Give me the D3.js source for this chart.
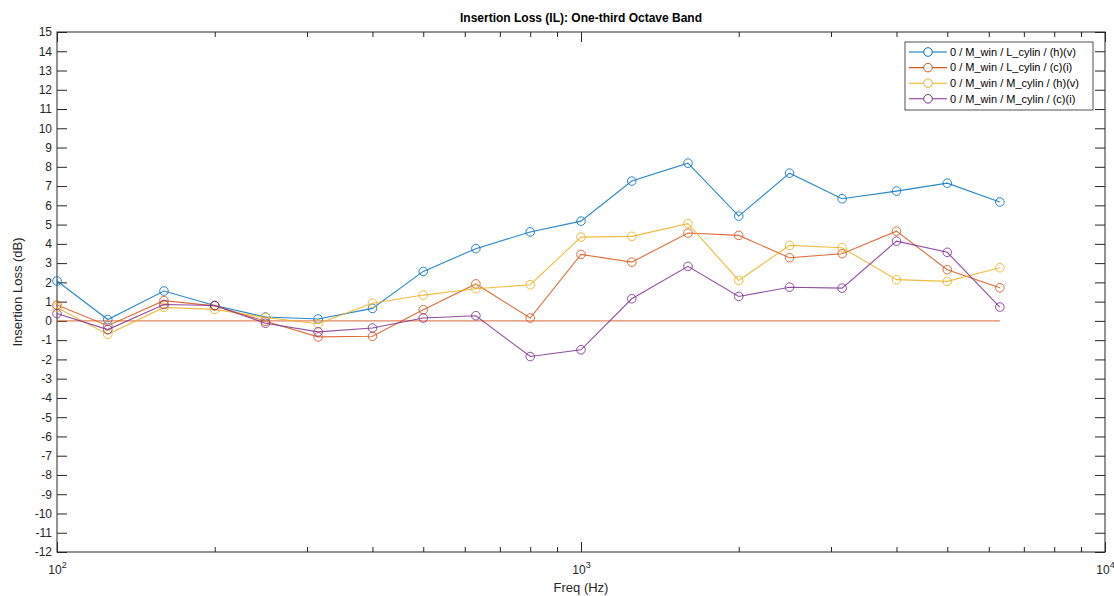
<!DOCTYPE html>
<html>
<head>
<meta charset="utf-8">
<script src="https://cdn.jsdelivr.net/npm/d3@7"></script>
<style>
  body { margin: 0; background: #fff; }
  text { font-family: Arial, "Liberation Sans", sans-serif; fill: #262626; }
  .title { font-weight: bold; font-size: 12px; fill: #000; }
  .label { font-size: 13px; }
  .axis text { font-size: 12px; }
  .legend text { font-size: 11px; fill: #000; }
</style>
</head>
<body>
<svg width="1114" height="596"></svg>
<script>
// one-third octave band centres (Hz)
var freqs = [100, 125, 160, 200, 250, 315, 400, 500, 630, 800, 1000, 1250, 1600, 2000, 2500, 3150, 4000, 5000, 6300];

var seriesNames = [
  '0 / M_win / L_cylin / (h)(v)',
  '0 / M_win / L_cylin / (c)(i)',
  '0 / M_win / M_cylin / (h)(v)',
  '0 / M_win / M_cylin / (c)(i)'
];
var seriesColors = ['#0072BD', '#D95319', '#EDB120', '#7E2F8E'];

var lHv = [2.07, 0.07, 1.55, 0.8, 0.2, 0.1, 0.65, 2.57, 3.75, 4.62, 5.18, 7.26, 8.19, 5.44, 7.67, 6.34, 6.74, 7.15, 6.17];
var lCi = [0.82, -0.25, 1.05, 0.78, -0.02, -0.83, -0.8, 0.58, 1.92, 0.15, 3.45, 3.05, 4.56, 4.44, 3.28, 3.49, 4.66, 2.66, 1.72];
var mHv = [0.7, -0.7, 0.7, 0.6, 0.18, -0.15, 0.92, 1.34, 1.67, 1.88, 4.35, 4.39, 5.05, 2.1, 3.92, 3.8, 2.14, 2.05, 2.76];
var mCi = [0.38, -0.45, 0.85, 0.8, -0.12, -0.57, -0.37, 0.15, 0.27, -1.85, -1.5, 1.15, 2.83, 1.27, 1.75, 1.7, 4.14, 3.56, 0.72];
var allSeries = [lHv, lCi, mHv, mCi];

var zeroLine = freqs.map(() => 0);

var yTicks = d3.range(-12, 16);
var xMajor = [100, 1000, 10000];
var xMinor = [200, 300, 400, 500, 600, 700, 800, 900, 2000, 3000, 4000, 5000, 6000, 7000, 8000, 9000];

var svg = d3.select('svg');
var plotL = 57, plotT = 32, plotR = 1105, plotB = 552;

var xScale = d3.scaleLog().domain([100, 10000]).range([plotL, plotR]);
var yScale = d3.scaleLinear().domain([-12, 15]).range([plotB, plotT]);

// axes box
svg.append('rect')
  .attr('x', plotL).attr('y', plotT)
  .attr('width', plotR - plotL).attr('height', plotB - plotT)
  .attr('fill', 'none').attr('stroke', '#262626').attr('stroke-width', 1);

function cleanAxis(g) {
  g.select('.domain').remove();
  g.selectAll('line').attr('stroke', '#262626');
  g.selectAll('text').attr('font-family', null).attr('font-size', null).attr('fill', '#262626');
}

svg.append('g').attr('class', 'axis')
  .attr('transform', `translate(${plotL},0)`)
  .call(d3.axisLeft(yScale).tickValues(yTicks).tickSize(-10).tickPadding(5).tickFormat((d) => String(d)))
  .call(cleanAxis);

svg.append('g').attr('class', 'axis')
  .attr('transform', `translate(${plotR},0)`)
  .call(d3.axisRight(yScale).tickValues(yTicks).tickSize(-10).tickFormat(''))
  .call(cleanAxis);

svg.append('g').attr('class', 'axis')
  .attr('transform', `translate(0,${plotB})`)
  .call(d3.axisBottom(xScale).tickValues(xMinor).tickSize(-5).tickFormat(''))
  .call(cleanAxis);

svg.append('g').attr('class', 'axis')
  .attr('transform', `translate(0,${plotT})`)
  .call(d3.axisTop(xScale).tickValues(xMinor).tickSize(-5).tickFormat(''))
  .call(cleanAxis);

var xMaj = svg.append('g').attr('class', 'axis')
  .attr('transform', `translate(0,${plotB})`)
  .call(d3.axisBottom(xScale).tickValues(xMajor).tickSize(-10).tickFormat(''))
  .call(cleanAxis);

svg.append('g').attr('class', 'axis')
  .attr('transform', `translate(0,${plotT})`)
  .call(d3.axisTop(xScale).tickValues(xMajor).tickSize(-10).tickFormat(''))
  .call(cleanAxis);

// 10^n labels
var expLabel = xMaj.selectAll('.tick').append('text')
  .attr('y', 22)
  .attr('text-anchor', 'middle')
  .attr('fill', '#262626');
expLabel.append('tspan').text('10');
expLabel.append('tspan')
  .attr('dy', -6)
  .attr('font-size', '9px')
  .text((d) => Math.round(Math.log10(d)));

// zero reference
var line = d3.line()
  .x((d, i) => xScale(freqs[i]))
  .y((d) => yScale(d));

svg.append('path')
  .datum(zeroLine)
  .attr('d', line)
  .attr('fill', 'none')
  .attr('stroke', '#D95319')
  .attr('stroke-opacity', 0.7)
  .attr('stroke-width', 1.4);

allSeries.forEach(function (vals, k) {
  var g = svg.append('g');
  g.append('path')
    .datum(vals)
    .attr('d', line)
    .attr('fill', 'none')
    .attr('stroke', seriesColors[k])
    .attr('stroke-opacity', 0.85)
    .attr('stroke-width', 1.1);
  g.selectAll('circle')
    .data(vals)
    .enter()
    .append('circle')
    .attr('cx', (d, i) => xScale(freqs[i]))
    .attr('cy', (d) => yScale(d))
    .attr('r', 4.3)
    .attr('fill', 'none')
    .attr('stroke', seriesColors[k])
    .attr('stroke-opacity', 0.85)
    .attr('stroke-width', 1);
});

// legend
var legend = svg.append('g').attr('class', 'legend');
legend.append('rect')
  .attr('x', 905).attr('y', 42)
  .attr('width', 188).attr('height', 68)
  .attr('fill', '#fff')
  .attr('stroke', '#262626')
  .attr('stroke-width', 0.8);

var rows = legend.selectAll('.row')
  .data(seriesNames)
  .enter()
  .append('g')
  .attr('class', 'row')
  .attr('transform', (d, i) => `translate(0, ${52 + i * 15.6})`);

rows.append('line')
  .attr('x1', 909).attr('x2', 947)
  .attr('stroke', (d, i) => seriesColors[i])
  .attr('stroke-width', 1.1);
rows.append('circle')
  .attr('cx', 928).attr('r', 4.3)
  .attr('fill', '#fff')
  .attr('stroke', (d, i) => seriesColors[i]);
rows.append('text')
  .attr('x', 950)
  .attr('dy', '0.35em')
  .text((d) => d);

svg.append('text')
  .attr('class', 'title')
  .attr('x', (plotL + plotR) / 2)
  .attr('y', 22)
  .attr('text-anchor', 'middle')
  .text('Insertion Loss (IL): One-third Octave Band');

svg.append('text')
  .attr('class', 'label')
  .attr('x', (plotL + plotR) / 2)
  .attr('y', 592)
  .attr('text-anchor', 'middle')
  .text('Freq (Hz)');

svg.append('text')
  .attr('class', 'label')
  .attr('transform', `translate(22, ${(plotT + plotB) / 2}) rotate(-90)`)
  .attr('text-anchor', 'middle')
  .text('Insertion Loss (dB)');
</script>
</body>
</html>
